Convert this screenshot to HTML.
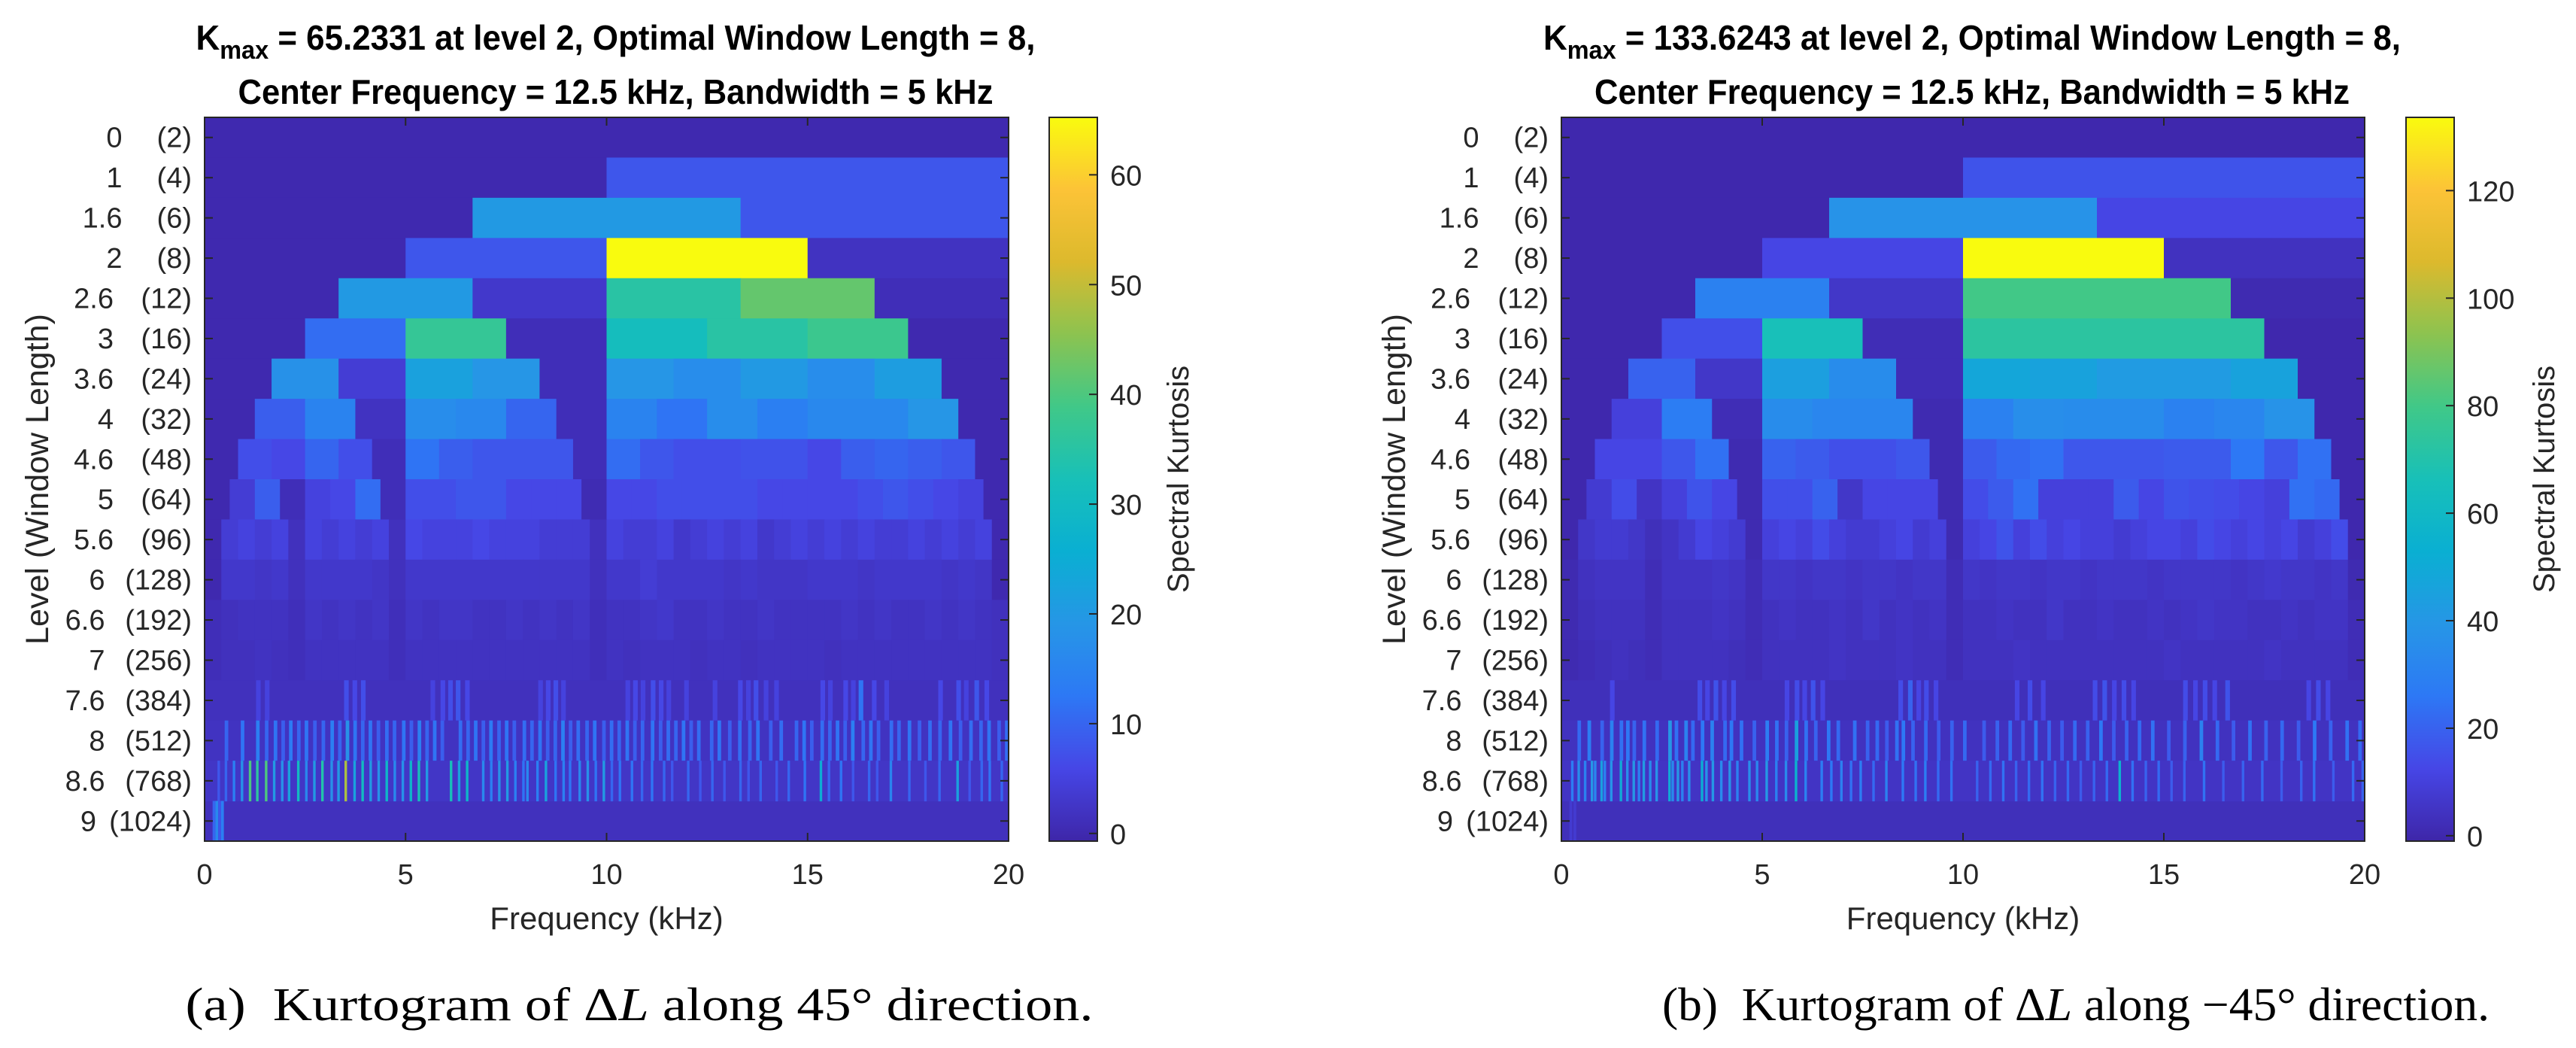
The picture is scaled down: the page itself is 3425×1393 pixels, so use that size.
<!DOCTYPE html>
<html><head><meta charset="utf-8"><style>
html,body{margin:0;padding:0;background:#fff;}
svg{display:block;}
text{font-family:"Liberation Sans",sans-serif;fill:#262626;}
.tt{font-weight:bold;fill:#000;}
.cap{font-family:"Liberation Serif",serif;fill:#000;}
</style></head><body>
<svg id="fig" width="3425" height="1393" viewBox="0 0 3425 1393" xmlns="http://www.w3.org/2000/svg">
<defs id="defs"></defs>
</svg>
<script>
// ---------- shared axis data ----------
const levelLabels = ["0","1","1.6","2","2.6","3","3.6","4","4.6","5","5.6","6","6.6","7","7.6","8","8.6","9"];
const windowLabels = ["(2)","(4)","(6)","(8)","(12)","(16)","(24)","(32)","(48)","(64)","(96)","(128)","(192)","(256)","(384)","(512)","(768)","(1024)"];
const bandCounts = [1,2,3,4,6,8,12,16,24,32,48,64,96,128,192,256,384,512];
const freqTicks = [0,5,10,15,20];
const leftCbTicks = [0,10,20,30,40,50,60];
const rightCbTicks = [0,20,40,60,80,100,120];

// ---------- left panel (45 deg) data ----------
const leftKmax = 65.2331;
const leftRows = [
 [0],
 [0,8],
 [0,20,8],
 [0,8,65.2,2],
 [0,20,3,35,42,1],
 [0,11,37,1,31,35,38,0],
 [0,18,4,22,19,1,19,17,20,17,21,0],
 [0,9,15,2,17,16,10,1,15,12,17,14,16,16,19,0],
 [0,7,6,10,7,1,12,9,8,8,8,1,11,8,7,7,7.5,7.5,6,9,10,9,8,0],
 [0,4,9,1,5,6,11,1,7,7,8,8,6,6,6,0.5,6,6,7,7,7,7,6,6,6,6,7,8,7,6,5,0],
 [0,4,5,4,5,1.5,5,4,5,4,5,1.5,6,5,5,5,6,5,5,5,4,4,4,1.5,5,4,4,5,3,4,5,4,5,3,4,5,4,5,4,5,4,4,5,4,5,4,5,0],
 [0,3,3,2.5,3,1.5,3,3,3,3,2.5,1.5,3,3,3,3,3,3,3,3,3,3,3,1.5,3,3,4,3,3,3,3,2.5,3,2.5,2.5,2.5,3,3,3,2.5,3,3,3,3,2.5,3,2.5,0],
 [1,1.5,2,2,2,1.2,2.5,2,2.5,2,2.5,1.2,2.5,2,2.5,2.5,2,2,2.5,2,2.5,2,2.5,1.2,2,2,2.5,3,2,2,2.5,2,2,2.5,2,2,2,2,2.5,2,2.5,2,2,2.5,2,2.5,2,1.5],
 [1,1.5,1.5,2,1.5,1.2,2,2,2,2,2,1.2,2,2,2,2,2,2,2,2,2,2,2,1.2,2,1.5,2,2,2,1.5,2,2,1.5,2,2,2,2,1.5,2,2,2,2,2,2,2,2,2,1.5],
 null, null, null,
 [1.5]
];
const leftSpikeBase = [1.5, 2, 2.5];
const leftL76Freq = [1.28,1.5,3.47,3.68,3.89,5.62,5.87,6.06,6.25,6.48,8.3,8.49,8.68,8.87,10.47,10.66,10.85,11.1,11.3,11.49,11.93,12.64,13.27,13.47,13.66,13.91,14.17,15.32,15.51,15.89,16.08,16.27,16.6,16.91,18.25,18.7,18.89,19.15,19.4];
const leftL76Val = [5,5,7,6,7,5,6,7,8,6,5,6,7,5,5,6,5,7,6,5,5,5,6,5,7,5,5,6,5,6,5,12,6,5,6,7,5,8,6];
const leftL8Freq = [0.5,0.9,1.28,1.5,1.72,1.91,2.1,2.3,2.49,2.7,2.91,3.13,3.32,3.51,3.7,3.89,4.08,4.28,4.49,4.68,4.91,5.1,5.3,5.49,5.68,5.87,6.32,6.51,6.7,6.89,7.08,7.28,7.47,7.66,7.91,8.1,8.3,8.49,8.68,8.87,9.06,9.25,9.47,9.66,9.89,10.08,10.27,10.47,10.66,10.85,11.1,11.3,11.49,11.68,11.87,12.06,12.25,12.57,12.76,13.02,13.27,13.52,13.72,14.04,14.3,14.68,14.87,15.06,15.32,15.51,15.7,15.89,16.08,16.34,16.53,16.72,17.04,17.23,17.49,17.74,18,18.25,18.51,18.76,19.02,19.27,19.47,19.72,19.91];
const leftL8Val = [10,12,14,10,12,9,13,10,12,9,10,14,10,18,12,10,12,9,11,10,12,9,14,10,12,9,11,10,12,9,13,10,12,9,11,10,12,9,10,14,9,11,10,12,9,11,10,12,9,10,12,9,11,10,12,9,11,10,12,9,11,10,12,9,11,10,12,9,11,10,12,9,14,10,12,9,11,10,12,9,11,10,12,9,11,10,12,9,11];
const leftL86Freq = [0.32,0.5,0.7,0.9,1.1,1.28,1.5,1.7,1.9,2.07,2.3,2.5,2.7,2.9,3.13,3.3,3.48,3.7,3.9,4.1,4.3,4.5,4.7,4.9,5.1,5.3,5.5,6.1,6.3,6.5,6.9,7.1,7.3,7.5,7.7,7.9,8.0,8.25,8.46,8.7,8.9,9.06,9.3,9.5,9.7,9.9,10.1,10.3,10.6,10.85,11.1,11.4,11.6,12,12.3,12.6,12.9,13.3,13.5,13.8,14.2,14.5,14.9,15.3,15.5,15.8,16.1,16.5,16.7,17.04,17.5,17.9,18.25,18.7,19,19.3,19.5,19.8];
const leftL86Val = [8,10,14,18,40,36,40,20,18,22,30,16,20,34,18,20,48,22,30,20,18,28,16,18,28,32,20,32,22,28,16,14,18,20,14,12,16,14,22,12,14,12,16,18,12,20,10,12,12,10,12,10,8,10,8,10,8,10,8,10,8,10,12,25,10,12,8,10,8,15,10,8,10,22,8,10,12,10];
const leftL9Freq = [0.2,0.27,0.34,0.41];
const leftL9Val = [10,16,8,14];

// ---------- right panel (-45 deg) data ----------
const rightKmax = 133.6243;
const rightRows = [
 [0],
 [0,16],
 [0,38,12],
 [0,12,133.6,4],
 [0,30,6,80,80,1],
 [0,15,66,2,73,73,73,0],
 [0,20,6,44,35,2,48,46,42,42,46,0],
 [0,10,28,2,35,32,32,1,30,36,35,35,30,32,38,0],
 [0,12,12,17,24,1,20,18,15,15,17,1,18,22,24,17,17,17,18,18,26,17,24,0],
 [0,8,14,5,10,16,12,1,15,15,20,6,12,12,12,1,14,18,24,10,10,10,18,12,16,15,14,12,10,24,22,0],
 [0,6,8,8,6,3,5,8,12,10,8,1,10,12,10,14,10,8,8,10,12,8,10,1,10,12,16,10,14,10,12,10,10,8,10,12,12,10,14,12,10,12,10,12,8,10,14,0],
 [1,4,5,5,5,2,5,5,5,6,5,2,6,6,5,6,6,5,6,6,5,6,6,2,6,5,6,6,5,6,6,5,6,6,6,5,6,6,6,6,5,6,7,6,6,5,6,1],
 [1,3,4,4,4,2,4,4,4,5,4,2,4,5,4,4,5,4,6,4,5,4,5,2,4,4,5,4,4,6,4,4,5,4,4,5,4,5,6,5,5,4,4,5,4,5,5,2],
 [1,2,3,4,3,2,4,4,4,4,3,2,4,4,4,4,5,4,4,4,5,4,4,2,4,4,4,5,4,4,4,4,4,4,4,4,5,4,4,4,4,4,5,4,4,4,4,2],
 null, null, null,
 [3]
];
const rightSpikeBase = [3, 4, 5];
const rightL76Freq = [1.21,3.39,3.58,3.79,4.0,4.23,5.56,5.81,6.0,6.21,6.45,8.39,8.63,8.84,9.03,9.27,11.29,11.61,11.94,13.23,13.47,13.71,13.95,14.19,15.48,15.73,15.97,16.21,16.53,18.55,18.79,19.03];
const rightL76Val = [12,14,12,16,12,14,12,14,12,16,12,14,20,12,14,12,12,14,12,14,16,12,14,12,14,12,14,12,16,12,14,12];
const rightL8Freq = [0.4,0.65,0.97,1.21,1.45,1.61,1.77,2.02,2.34,2.66,2.82,3.06,3.23,3.47,3.71,4.03,4.19,4.44,4.76,5.08,5.32,5.56,5.81,6.05,6.29,6.61,6.85,7.26,7.58,7.82,8.06,8.31,8.47,8.71,9.03,9.35,9.68,10.0,10.48,10.81,11.13,11.45,11.77,12.1,12.42,12.74,13.06,13.39,13.71,14.03,14.35,14.68,15.08,15.48,15.89,16.29,16.69,17.1,17.5,17.9,18.31,18.71,19.11,19.52,19.84];
const rightL8Val = [22,28,20,30,24,26,20,24,22,40,24,30,22,26,30,22,26,24,20,28,24,20,45,24,20,26,22,24,20,22,18,24,26,20,22,18,20,22,18,20,22,18,24,20,18,22,20,26,18,20,22,24,18,20,30,22,18,24,20,22,18,26,20,24,22];
const rightL86Freq = [0.24,0.4,0.56,0.73,0.81,0.97,1.05,1.21,1.45,1.61,1.77,1.9,2.02,2.18,2.34,2.66,2.74,2.87,2.98,3.15,3.47,3.58,3.74,3.95,4.16,4.35,4.65,4.84,5.08,5.32,5.56,5.81,6.05,6.45,6.69,6.94,7.18,7.42,7.74,8.06,8.47,8.79,9.03,9.35,9.68,10.32,10.65,10.97,11.29,11.61,11.94,12.26,12.58,12.9,13.23,13.55,13.87,14.19,14.52,14.84,15.16,15.48,15.97,16.45,16.94,17.42,17.9,18.39,18.71,19.19,19.68,19.92];
const rightL86Val = [28,35,30,40,32,45,30,38,50,36,40,30,42,35,38,50,34,40,30,36,52,38,40,34,38,30,36,32,40,30,34,55,30,28,26,30,24,28,22,30,26,24,28,22,24,20,22,24,20,22,24,20,22,18,20,22,55,24,20,22,18,20,24,18,20,22,18,20,24,18,22,20];
const rightL9Freq = [0.2,0.3];
const rightL9Val = [8,8];

// ---------- colormap ----------
const parulaStops = [
 [0,62,38,168],[0.1,70,70,230],[0.2,45,120,245],[0.3,38,150,230],[0.4,10,175,210],
 [0.5,24,192,184],[0.6,64,200,136],[0.7,140,195,80],[0.8,220,185,45],[0.9,252,195,55],[1,249,251,14]];
function parula(t){
  t=Math.max(0,Math.min(1,t));
  for(let i=1;i<parulaStops.length;i++){
    if(t<=parulaStops[i][0]){
      const a=parulaStops[i-1],b=parulaStops[i],f=(t-a[0])/(b[0]-a[0]);
      return 'rgb('+[1,2,3].map(k=>Math.round(a[k]+(b[k]-a[k])*f)).join(',')+')';
    }
  }
  return 'rgb(249,251,14)';
}

const NS='http://www.w3.org/2000/svg';
const svg=document.getElementById('fig');
function mk(tag,attrs,parent){
  const e=document.createElementNS(NS,tag);
  for(const k in attrs) e.setAttribute(k,attrs[k]);
  (parent||svg).appendChild(e);
  return e;
}
function tsp(parent,txt,attrs){
  const e=mk('tspan',attrs||{},parent);
  e.textContent=txt;
  return e;
}

function drawPanel(p){
  const g=mk('g',{});
  
  
  const nRows=levelLabels.length;
  const rh=p.h/nRows;
  const xS=f=>p.x0+f/20*p.w;
  const yR=i=>p.y0+i*rh;
  const cS=v=>parula((v-p.cmin)/(p.cmax-p.cmin));
  const cells=mk('g',{},g);
  
  
  function cell(f0,f1,i,v){
    const r=mk('rect',{x:xS(f0),y:yR(i),width:xS(f1)-xS(f0)+0.6,height:rh+0.6,fill:cS(v)},cells);
    
    
  }
  for(let i=0;i<nRows;i++){
    const arr=p.rows[i];
    if(arr){
      const m=arr.length;
      for(let j=0;j<m;j++) cell(j*20/m,(j+1)*20/m,i,arr[j]);
    }
  }
  const spikeRows=[[14,p.l76f,p.l76v,p.base[0]],[15,p.l8f,p.l8v,p.base[1]],[16,p.l86f,p.l86v,p.base[2]]];
  spikeRows.forEach(sr=>{
    const i=sr[0],fr=sr[1],vl=sr[2],b=sr[3],bw=20/bandCounts[i];
    cell(0,20,i,b);
    const n=Math.min(fr.length,vl.length);
    for(let k=0;k<n;k++) cell(fr[k],fr[k]+bw,i,vl[k]);
  });
  {
    const i=17,bw=20/bandCounts[i];
    const n=Math.min(p.l9f.length,p.l9v.length);
    for(let k=0;k<n;k++) cell(p.l9f[k],p.l9f[k]+bw*1.5,i,p.l9v[k]);
  }
  const box=mk('rect',{x:p.x0,y:p.y0,width:p.w,height:p.h,fill:'none',stroke:'#262626','stroke-width':2},g);
  
  
  for(let i=0;i<nRows;i++){
    const yc=yR(i)+rh/2;
    mk('line',{x1:p.x0,x2:p.x0+11,y1:yc,y2:yc,stroke:'#262626','stroke-width':2},g);
    mk('line',{x1:p.x0+p.w-11,x2:p.x0+p.w,y1:yc,y2:yc,stroke:'#262626','stroke-width':2},g);
    const t1=mk('text',{x:p.x0-17,y:yc+13,'text-anchor':'end','font-size':38},g);
    t1.textContent=windowLabels[i];
    
    
    const digits=windowLabels[i].length-2;
    const t2=mk('text',{x:p.x0-98-11.5*digits,y:yc+13,'text-anchor':'end','font-size':38},g);
    t2.textContent=levelLabels[i];
    
    
  }
  freqTicks.forEach(f=>{
    const x=xS(f);
    mk('line',{x1:x,x2:x,y1:p.y0+p.h,y2:p.y0+p.h-11,stroke:'#262626','stroke-width':2},g);
    mk('line',{x1:x,x2:x,y1:p.y0,y2:p.y0+11,stroke:'#262626','stroke-width':2},g);
    const t=mk('text',{x:x,y:p.y0+p.h+57,'text-anchor':'middle','font-size':38},g);
    t.textContent=String(f);
    
    
  });
  const xl=mk('text',{x:p.x0+p.w/2,y:p.y0+p.h+117,'text-anchor':'middle','font-size':42},g);
  xl.textContent='Frequency (kHz)';
  
  
  const yl=mk('text',{x:0,y:0,'text-anchor':'middle','font-size':43,transform:'translate('+(p.x0-208)+','+(p.y0+p.h/2)+') rotate(-90)'},g);
  yl.textContent='Level (Window Length)';
  
  
  const gid='grad-'+p.name;
  const lg=mk('linearGradient',{id:gid,x1:0,y1:1,x2:0,y2:0},document.getElementById('defs'));
  for(let k=0;k<=40;k++) mk('stop',{offset:k/40,'stop-color':parula(k/40)},lg);
  const cb=mk('rect',{x:p.cbx,y:p.y0,width:p.cbw,height:p.h,fill:'url(#'+gid+')',stroke:'#262626','stroke-width':2},g);
  
  
  const cY=v=>p.y0+(p.cmax-v)/(p.cmax-p.cmin)*p.h;
  p.cbTicks.forEach(v=>{
    const y=cY(v);
    mk('line',{x1:p.cbx+p.cbw-11,x2:p.cbx+p.cbw,y1:y,y2:y,stroke:'#262626','stroke-width':2},g);
    const t=mk('text',{x:p.cbx+p.cbw+17,y:y+14,'font-size':38},g);
    t.textContent=String(v);
    
    
  });
  const cl=mk('text',{x:0,y:0,'text-anchor':'middle','font-size':40,transform:'translate('+p.cblx+','+(p.y0+p.h/2)+') rotate(-90)'},g);
  cl.textContent='Spectral Kurtosis';
  
  
  const tcx=p.x0+p.w/2+12;
  const kv=(p.kmax!==undefined?p.kmax:p.cmax);
  const t1=mk('text',{x:tcx,y:66,'text-anchor':'middle','font-size':46,class:'tt',textLength:p.t1w,lengthAdjust:'spacingAndGlyphs'},g);
  tsp(t1,'K');
  tsp(t1,'max',{dy:12,'font-size':34});
  tsp(t1,' = '+kv.toFixed(4)+' at level 2, Optimal Window Length = 8,',{dy:-12});
  
  
  const t2=mk('text',{x:tcx,y:138,'text-anchor':'middle','font-size':46,class:'tt',textLength:1004,lengthAdjust:'spacingAndGlyphs'},g);
  t2.textContent='Center Frequency = 12.5 kHz, Bandwidth = 5 kHz';
  
  
  const cp=mk('text',{x:p.capx,y:1356,'text-anchor':'middle','font-size':62,class:'cap',textLength:p.capw,lengthAdjust:'spacingAndGlyphs'},g);
  tsp(cp,p.capA);
  tsp(cp,'L',{'font-style':'italic'});
  tsp(cp,p.capB);
  
  
}

drawPanel({name:'left',x0:272,y0:156,w:1069,h:962,cmin:-0.7,cmax:leftKmax,kmax:leftKmax,rows:leftRows,base:leftSpikeBase,
  l76f:leftL76Freq,l76v:leftL76Val,l8f:leftL8Freq,l8v:leftL8Val,l86f:leftL86Freq,l86v:leftL86Val,l9f:leftL9Freq,l9v:leftL9Val,
  cbx:1395,cbw:64,cbTicks:leftCbTicks,cblx:1580,t1w:1116,capx:850,capw:1207,
  capA:'(a)\u00a0 Kurtogram of \u0394',capB:' along 45\u00b0 direction.'});
drawPanel({name:'right',x0:2076,y0:156,w:1068,h:962,cmin:-1,cmax:rightKmax,kmax:rightKmax,rows:rightRows,base:rightSpikeBase,
  l76f:rightL76Freq,l76v:rightL76Val,l8f:rightL8Freq,l8v:rightL8Val,l86f:rightL86Freq,l86v:rightL86Val,l9f:rightL9Freq,l9v:rightL9Val,
  cbx:3199,cbw:64,cbTicks:rightCbTicks,cblx:3396,t1w:1140,capx:2760,capw:1100,
  capA:'(b)\u00a0 Kurtogram of \u0394',capB:' along \u221245\u00b0 direction.'});
</script>
</body></html>
